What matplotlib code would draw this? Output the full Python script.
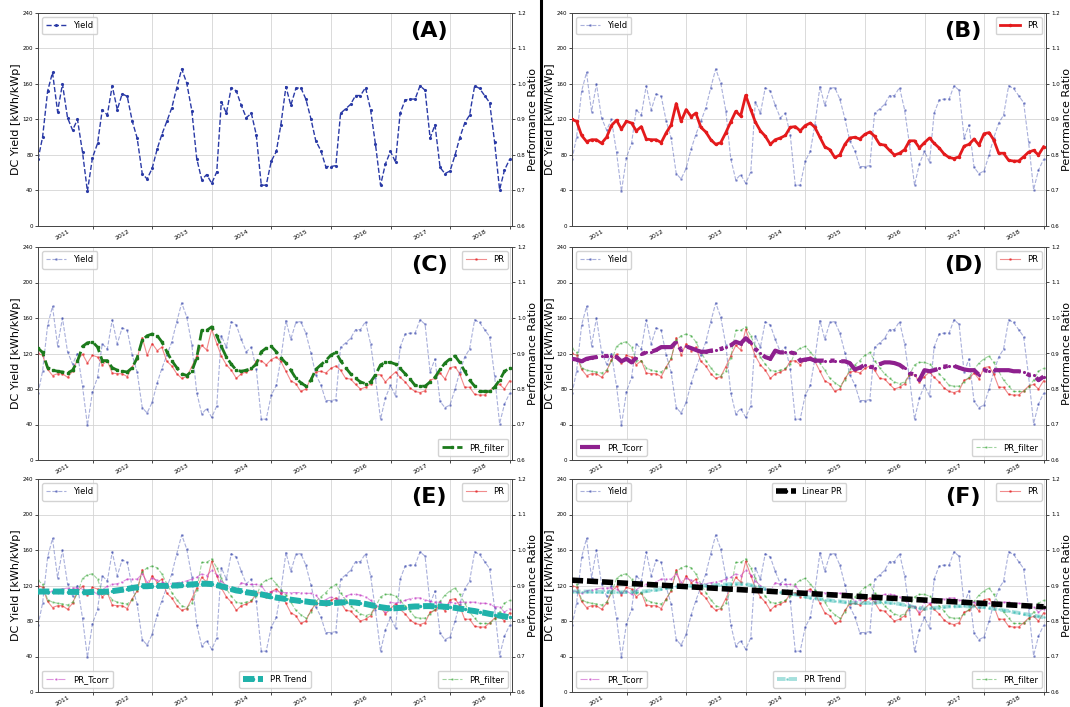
import matplotlib
matplotlib.use('Agg')
import matplotlib.pyplot as plt
import matplotlib.dates as mdates
from matplotlib.lines import Line2D
import pandas as pd

# monthly values, Jan 2011 - Dec 2018 (month ends)
dates = pd.period_range('2011-01', periods=96, freq='M').to_timestamp(how='end').normalize()

dc_yield = [75, 100, 152, 173, 129, 160, 122, 108, 120, 83,
            39, 77, 93, 131, 125, 158, 131, 149, 146, 118,
            99, 59, 53, 65, 87, 103, 118, 133, 156, 177,
            161, 130, 76, 52, 58, 48, 61, 140, 127, 156,
            152, 136, 122, 127, 103, 46, 46, 73, 84, 114,
            157, 136, 155, 156, 143, 121, 96, 85, 67, 67,
            68, 127, 132, 137, 147, 147, 156, 131, 92, 46,
            70, 84, 72, 127, 142, 143, 143, 158, 153, 99,
            114, 66, 59, 62, 80, 99, 116, 125, 158, 155,
            147, 139, 95, 41, 63, 75]

pr = [0.900, 0.895, 0.855, 0.838, 0.843, 0.843, 0.833, 0.850, 0.883, 0.898,
      0.873, 0.895, 0.890, 0.868, 0.880, 0.845, 0.843, 0.843, 0.835, 0.863,
      0.885, 0.945, 0.895, 0.928, 0.908, 0.918, 0.878, 0.865, 0.843, 0.830,
      0.835, 0.863, 0.893, 0.923, 0.910, 0.968, 0.928, 0.893, 0.868, 0.853,
      0.830, 0.843, 0.848, 0.855, 0.878, 0.880, 0.868, 0.883, 0.890, 0.878,
      0.850, 0.823, 0.815, 0.793, 0.800, 0.830, 0.848, 0.850, 0.845, 0.858,
      0.865, 0.853, 0.830, 0.828, 0.813, 0.800, 0.805, 0.815, 0.840, 0.840,
      0.820, 0.835, 0.848, 0.833, 0.820, 0.803, 0.793, 0.790, 0.795, 0.825,
      0.830, 0.845, 0.828, 0.860, 0.863, 0.843, 0.805, 0.805, 0.785, 0.783,
      0.783, 0.795, 0.808, 0.813, 0.800, 0.823]

pr_filter = [0.915, 0.903, 0.860, 0.853, 0.850, 0.848, 0.845, 0.853, 0.878, 0.920,
             0.930, 0.933, 0.918, 0.880, 0.880, 0.860, 0.853, 0.850, 0.848, 0.860,
             0.888, 0.938, 0.950, 0.955, 0.950, 0.933, 0.905, 0.880, 0.860, 0.843,
             0.838, 0.850, 0.888, 0.965, 0.965, 0.975, 0.950, 0.920, 0.890, 0.870,
             0.853, 0.850, 0.853, 0.858, 0.870, 0.905, 0.915, 0.920, 0.905, 0.888,
             0.873, 0.853, 0.830, 0.818, 0.808, 0.825, 0.855, 0.868, 0.880, 0.895,
             0.903, 0.880, 0.860, 0.843, 0.830, 0.820, 0.815, 0.820, 0.840, 0.868,
             0.875, 0.875, 0.870, 0.858, 0.843, 0.828, 0.810, 0.808, 0.808, 0.820,
             0.833, 0.855, 0.873, 0.885, 0.893, 0.875, 0.850, 0.825, 0.808, 0.793,
             0.793, 0.793, 0.805, 0.825, 0.850, 0.858]

pr_tcorr = [0.885, 0.883, 0.878, 0.885, 0.888, 0.890, 0.893, 0.893, 0.893, 0.890,
            0.878, 0.885, 0.875, 0.888, 0.898, 0.903, 0.905, 0.910, 0.918, 0.918,
            0.918, 0.933, 0.910, 0.920, 0.915, 0.910, 0.905, 0.905, 0.908, 0.910,
            0.913, 0.918, 0.923, 0.933, 0.928, 0.943, 0.930, 0.913, 0.900, 0.890,
            0.885, 0.908, 0.903, 0.903, 0.903, 0.900, 0.880, 0.883, 0.885, 0.880,
            0.880, 0.880, 0.880, 0.880, 0.878, 0.878, 0.873, 0.855, 0.860, 0.868,
            0.863, 0.860, 0.870, 0.875, 0.875, 0.873, 0.868, 0.858, 0.845, 0.840,
            0.825, 0.853, 0.850, 0.853, 0.858, 0.863, 0.865, 0.865, 0.860, 0.855,
            0.853, 0.853, 0.840, 0.853, 0.850, 0.853, 0.853, 0.853, 0.853, 0.850,
            0.850, 0.848, 0.840, 0.840, 0.825, 0.835]

pr_trend = [0.883, 0.883, 0.883, 0.883, 0.883, 0.883, 0.882, 0.882, 0.882, 0.881,
            0.881, 0.882, 0.882, 0.882, 0.883, 0.884, 0.886, 0.888, 0.890, 0.893,
            0.895, 0.898, 0.898, 0.899, 0.899, 0.899, 0.899, 0.900, 0.900, 0.901,
            0.902, 0.903, 0.904, 0.905, 0.905, 0.904, 0.901, 0.898, 0.894, 0.890,
            0.886, 0.884, 0.881, 0.879, 0.877, 0.875, 0.872, 0.869, 0.866, 0.864,
            0.862, 0.860, 0.858, 0.856, 0.855, 0.853, 0.852, 0.851, 0.850, 0.851,
            0.851, 0.852, 0.853, 0.853, 0.852, 0.850, 0.848, 0.845, 0.842, 0.839,
            0.837, 0.835, 0.836, 0.837, 0.838, 0.840, 0.841, 0.841, 0.842, 0.842,
            0.841, 0.841, 0.840, 0.839, 0.837, 0.835, 0.833, 0.830, 0.828, 0.825,
            0.823, 0.820, 0.818, 0.815, 0.813, 0.810]

# linear fit, start and end of the period
linear_pr = [0.915, 0.840]
linear_dates = [dates[0], dates[-1]]

yield_ticks = [0, 40, 80, 120, 160, 200, 240]
pr_ticks = [0.6, 0.7, 0.8, 0.9, 1.0, 1.1, 1.2]
panel_labels = ['(A)', '(B)', '(C)', '(D)', '(E)', '(F)']

# name, x, y, legend loc, strong style, light style
series = [
    ('Yield', dates, dc_yield, 'upper left',
     dict(color='#2a3aa6', ls='--', lw=1.0, marker='.', ms=2.5),
     dict(color='#2a3aa6', ls='--', lw=0.8, marker='.', ms=2, alpha=0.4)),
    ('PR', dates, pr, 'upper right',
     dict(color='#e41a1c', ls='-', lw=2.0, marker='.', ms=3),
     dict(color='#e41a1c', ls='-', lw=0.8, marker='.', ms=2, alpha=0.5)),
    ('PR_filter', dates, pr_filter, 'lower right',
     dict(color='#1c7a1c', ls='--', lw=2.0, marker='s', ms=2),
     dict(color='#2ca02c', ls='--', lw=0.8, marker='.', ms=1.5, alpha=0.45)),
    ('PR_Tcorr', dates, pr_tcorr, 'lower left',
     dict(color='#8e208e', ls='-.', lw=3.0, marker='.', ms=2.5),
     dict(color='#c030c0', ls='-.', lw=0.8, marker='.', ms=1.5, alpha=0.5)),
    ('PR Trend', dates, pr_trend, 'lower center',
     dict(color='#20b2aa', ls=(0, (1.9, 0.6)), lw=4.3, marker='.', ms=3),
     dict(color='#20b2aa', ls=(0, (2.2, 0.8)), lw=2.8, marker='.', ms=2, alpha=0.4)),
    ('Linear PR', linear_dates, linear_pr, 'upper center',
     dict(color='black', ls=(0, (2.0, 0.7)), lw=4.0, marker='.', ms=3),
     None),
]

fig = plt.figure(figsize=(10.7, 7.07), dpi=100)

col_left = [38 / 1070, 572 / 1070]
row_bottom = [1 - 226 / 707, 1 - 460 / 707, 1 - 692 / 707]
ax_w = 474 / 1070
ax_h = 213 / 707

for k in range(6):
    ax = fig.add_axes([col_left[k % 2], row_bottom[k // 2], ax_w, ax_h])
    ax2 = ax.twinx()

    handles = {}
    for j in range(k + 1):
        name, x, y, loc, strong, light = series[j]
        style = strong if j == k else light
        target = ax if j == 0 else ax2
        line, = target.plot(x, y, label=name, zorder=5 if j == k else 2, **style)
        handles[j] = line

    ax.set_ylim(0, 240)
    ax.set_yticks(yield_ticks)
    ax2.set_ylim(0.6, 1.2)
    ax2.set_yticks(pr_ticks)
    ax2.set_yticklabels([f'{t:.1f}' for t in pr_ticks])
    ax.set_xlim(dates[0], dates[-1] + pd.Timedelta(days=15))

    ax.xaxis.set_major_locator(mdates.YearLocator(1, month=1, day=1))
    ax.xaxis.set_major_formatter(plt.NullFormatter())
    ax.xaxis.set_minor_locator(mdates.YearLocator(1, month=7, day=1))
    ax.xaxis.set_minor_formatter(mdates.DateFormatter('%Y'))
    ax.tick_params(axis='x', which='minor', labelsize=4.5, labelrotation=30,
                   length=0, pad=2)
    ax.tick_params(axis='x', which='major', length=2, width=0.5)
    ax.tick_params(axis='y', labelsize=4, length=2, width=0.5, pad=1.5)
    ax2.tick_params(axis='y', labelsize=4, length=2, width=0.5, pad=1.5)

    ax.grid(True, which='major', color='#d4d4d4', lw=0.6)
    for a in (ax, ax2):
        for sp in a.spines.values():
            sp.set_linewidth(0.6)
            sp.set_color('#444444')

    ax.set_ylabel('DC Yield [kWh/kWp]', fontsize=8, labelpad=1.5)
    ax2.set_ylabel('Performance Ratio', fontsize=8, labelpad=1.5)

    ax.text(0.825, 0.915, panel_labels[k], transform=ax.transAxes,
            ha='center', va='center', fontsize=16, fontweight='bold', zorder=10)

    # one legend box per series
    legs = []
    for j in range(k + 1):
        leg = ax2.legend(handles=[handles[j]], loc=series[j][3], fontsize=6,
                         framealpha=0.85, edgecolor='#cccccc', handlelength=2.4,
                         borderpad=0.5, fancybox=True)
        legs.append(leg)
    for leg in legs[:-1]:
        ax2.add_artist(leg)

# separator between the two columns
fig.add_artist(Line2D([541 / 1070, 541 / 1070], [0, 1], color='black', lw=2.2))

fig.savefig('out.png', dpi=100)
